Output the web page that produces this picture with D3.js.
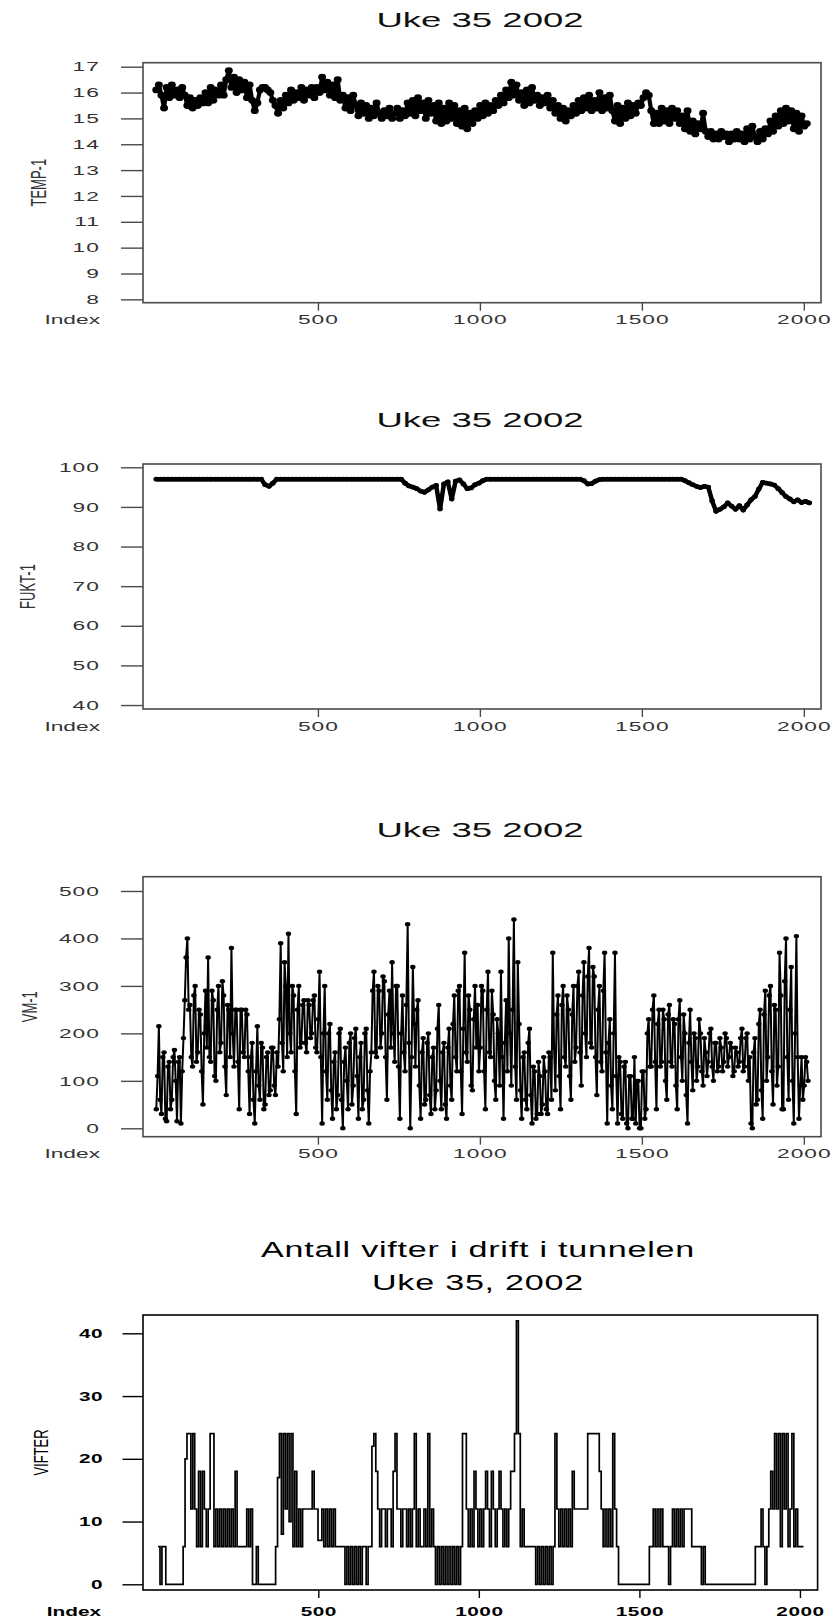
<!DOCTYPE html>
<html>
<head>
<meta charset="utf-8">
<script src="https://cdn.jsdelivr.net/npm/d3@7/dist/d3.min.js"></script>
<style>
  body { margin: 0; background: #fff; }
  svg { display: block; }
</style>
</head>
<body>
<svg id="chart" width="835" height="1620"></svg>
<script>
// ---- tick labels ----
const indexTicks = [500, 1000, 1500, 2000];
const tempTicks = [8, 9, 10, 11, 12, 13, 14, 15, 16, 17];
const fuktTicks = [40, 50, 60, 70, 80, 90, 100];
const vmTicks = [0, 100, 200, 300, 400, 500];
const vifterTicks = [0, 10, 20, 30, 40];

// ---- TEMP-1, one reading every 8th index ----
const tempStep = 8;
const tempValues = [
  16.1,16.3,15.9,15.4,16.2,15.8,16.3,15.9,16.1,15.8,16.2,15.9,15.5,15.8,15.4,15.7,15.5,15.8,15.6,16.0,15.6,16.2,15.7,16.1,15.9,
  16.3,15.9,16.5,16.85,16.2,16.6,16.0,16.5,16.1,16.4,15.8,16.3,15.7,15.3,15.6,16.1,16.2,16.2,16.1,16.0,15.7,15.5,15.2,15.7,15.4,
  15.9,15.6,16.1,15.7,16.0,15.8,16.2,15.7,16.1,15.9,16.2,15.8,16.2,16.0,16.6,16.1,16.4,15.9,16.3,15.8,16.5,15.7,15.9,15.4,15.8,
  15.3,15.9,15.5,15.1,15.6,15.2,15.5,15.0,15.4,15.1,15.6,15.2,15.0,15.3,15.1,15.4,15.0,15.2,15.4,15.0,15.3,15.1,15.6,15.2,15.7,
  15.1,15.8,15.3,15.6,15.0,15.7,15.2,15.5,14.9,15.6,14.8,15.4,14.9,15.6,15.0,15.5,14.8,15.3,14.7,15.4,14.6,15.2,14.8,15.3,15.0,
  15.5,15.1,15.6,15.2,15.5,15.3,15.7,15.5,15.9,15.6,16.1,15.8,16.4,15.9,16.3,15.7,16.0,15.5,16.1,15.6,16.2,15.7,15.9,15.5,15.8,
  15.6,15.9,15.4,15.7,15.2,15.5,15.0,15.4,14.9,15.3,15.1,15.5,15.2,15.7,15.3,15.8,15.4,15.9,15.3,15.7,15.4,16.0,15.3,15.8,15.4,
  15.9,15.3,14.9,15.5,14.8,15.4,15.0,15.6,15.1,15.5,15.2,15.6,15.5,15.8,16.0,15.9,15.3,14.8,15.2,14.8,15.4,14.9,15.3,14.8,15.4,
  15.0,15.3,14.8,15.1,14.6,15.3,14.5,14.9,14.4,14.8,14.6,15.2,14.5,14.3,14.5,14.2,14.4,14.2,14.5,14.3,14.4,14.1,14.4,14.2,14.5,
  14.2,14.4,14.1,14.6,14.2,14.7,14.3,14.1,14.5,14.2,14.6,14.4,14.9,14.5,15.1,14.7,15.3,14.8,15.4,14.9,15.3,14.6,15.2,14.5,15.1,
  14.7,14.8
];

// ---- FUKT-1, one reading every 12th index ----
const fuktStep = 12;
const fuktValues = [
  97,97,97,97,97,97,97,97,97,97,97,97,97,97,97,97,97,97,97,97,97,97,97,97,97,97,97,97,
  95.6,95.2,96.0,
  97,97,97,97,97,97,97,97,97,97,97,97,97,97,97,97,97,97,97,97,97,97,97,97,97,97,97,97,97,97,97,97,97,
  96.0,95.3,95.0,94.6,94.0,93.7,94.3,95.0,95.4,89.5,95.8,96.3,92.0,96.5,96.8,95.8,94.6,94.8,95.6,96.0,96.6,
  97,97,97,97,97,97,97,97,97,97,97,97,97,97,97,97,97,97,97,97,97,97,97,97,97,
  96.6,95.8,95.9,96.5,96.9,
  97,97,97,97,97,97,97,97,97,97,97,97,97,97,97,97,97,97,97,97,97,
  96.6,96.1,95.6,95.2,94.9,95.2,95.0,91.5,88.9,89.4,90.0,91.0,90.2,89.4,90.3,89.2,90.5,91.8,92.6,94.5,
  96.2,96.0,95.8,95.5,94.6,93.6,92.6,92.0,91.3,91.8,91.1,91.4,91.0
];

// ---- VM-1, one reading every 4th index ----
const vmStep = 4;
const vmValues = [
  40,110,215,60,30,150,160,20,15,130, 140,40,60,150,165,100,15,140,150,10,
  120,190,270,360,400,250,260,150,130,280, 300,140,160,250,240,120,50,200,290,170,
  360,150,140,290,270,110,100,250,300,160,
  180,310,280,130,70,260,250,150,380,200, 130,250,250,140,40,250,250,160,150,250,
  240,120,30,150,180,60,10,120,215,90, 60,180,170,40,50,150,160,70,80,170,
  170,90,70,160,130,230,390,180,120,350,
  300,150,410,200,160,300,280,120,30,250, 300,170,180,260,270,180,160,270,260,190,
  200,270,280,170,160,230,330,150,10,200, 300,120,60,200,220,80,20,140,160,40,
  70,200,210,60,0,140,170,100,40,180,
  200,50,90,190,210,110,20,150,180,40, 60,200,210,80,10,120,160,290,330,160,
  150,300,290,170,200,320,310,150,60,240, 290,170,350,200,140,300,300,130,20,200,
  280,160,120,260,430,180,0,150,340,220,
  130,250,270,90,20,160,190,50,60,180, 200,70,30,150,170,40,80,210,260,100,
  40,160,180,50,20,170,210,90,60,220, 280,150,120,290,300,120,30,210,370,160,
  140,280,250,90,80,230,300,170,260,120,
  170,300,290,120,40,250,330,160,150,290, 240,100,60,230,200,90,330,150,20,180,
  270,120,400,200,90,250,440,130,60,350, 220,80,20,150,160,60,40,180,210,70,
  10,130,120,20,30,140,110,30,50,150,
  120,40,30,160,150,60,370,170,80,240, 280,110,40,260,300,150,130,280,250,110,
  60,240,300,140,170,300,330,160,90,280, 350,200,150,320,380,180,170,340,320,150,
  70,250,300,140,120,290,370,160,10,180,
  230,90,40,200,370,110,10,150,140,30, 20,130,140,10,0,110,110,20,20,150,
  10,100,100,0,0,120,120,20,40,200, 230,130,130,250,280,140,40,220,250,130,
  140,250,230,100,60,240,260,140,130,230,
  220,90,40,230,270,150,100,240,200,70, 10,180,250,140,80,200,190,100,130,230,
  200,120,90,190,160,110,140,200,210,130, 100,180,180,120,130,190,170,120,140,200,
  190,130,150,180,170,110,120,170,160,130,
  140,190,210,120,130,190,200,100,150,10, 0,160,190,50,60,220,250,80,20,240,
  290,100,150,280,300,120,50,260,250,90, 130,370,280,40,40,310,400,150,60,250,
  340,100,10,200,405,150,20,90,150,60,
  90,150,140,100
];

// ---- VIFTER (fans running), one reading every 6th index ----
const vifterStep = 6;
const vifterValues = [
  6,0,6,6,0,0,0,0,0,0,0,0,0,6,20,24,24,12,24,12,6,18,6,18,12,
  6,12,24,24,6,12,6,12,6,12,6,12,6,12,6,18,6,6,6,6,6,12,6,12,0,
  0,6,0,0,0,0,0,0,0,0,0,6,17,24,8,24,12,24,10,24,6,18,6,12,6,
  12,12,12,12,12,18,12,12,7,7,12,6,12,6,12,6,12,6,6,6,6,6,0,6,0,
  6,0,6,0,6,0,6,6,0,6,6,22,24,18,12,6,12,12,6,12,12,6,18,24,12,
  12,6,12,12,6,12,6,12,24,6,12,6,6,12,6,24,6,12,6,0,6,0,6,0,6,
  0,6,0,6,0,6,0,6,24,24,12,6,12,6,18,12,6,12,6,12,18,12,6,18,12,
  6,12,18,12,6,12,6,12,18,18,24,42,24,6,12,6,6,6,6,6,6,0,6,0,6,
  0,6,0,6,0,6,24,12,6,12,6,12,6,12,6,18,12,12,12,12,12,12,12,24,24,
  24,24,24,24,18,12,6,12,6,12,6,24,12,6,0,0,0,0,0,0,0,0,0,0,0,
  0,0,0,0,0,6,6,12,6,12,6,12,6,6,6,0,6,12,6,12,6,12,6,12,12,
  12,12,6,6,6,6,6,0,6,0,0,0,0,0,0,0,0,0,0,0,0,0,0,0,0,
  0,0,0,0,0,0,0,0,0,0,6,6,6,12,6,0,6,12,18,12,24,12,24,6,24,
  12,24,6,12,24,6,12,6,6,6,6
];

const svg = d3.select("#chart");
const FONT = "'Liberation Sans', Arial, sans-serif";

// Wide lettering: every text is widened horizontally about its anchor.
function widen(sel, sx) {
  sel.each(function () {
    const t = d3.select(this);
    const x = +t.attr("x") || 0, y = +t.attr("y") || 0;
    t.attr("x", 0).attr("y", 0)
     .attr("transform", `translate(${x},${y}) scale(${sx},1)`);
  });
}

function drawPanel(o) {
  const x = d3.scaleLinear().domain(o.xDomain).range([o.left, o.right]);
  const y = d3.scaleLinear().domain(o.yDomain).range([o.bottom, o.top]);
  const g = svg.append("g");
  const pts = o.values.map((v, i) => ({ idx: 1 + i * o.step, v }));

  // titles
  o.titles.forEach((t, i) => {
    g.append("text")
      .attr("x", o.titleX).attr("y", o.titleY[i])
      .attr("text-anchor", "middle")
      .attr("font-family", FONT).attr("font-size", o.titleSize)
      .attr("letter-spacing", o.titleSpacing || 0)
      .attr("fill", o.titleColor)
      .text(t)
      .call(widen, o.titleStretch);
  });

  // series
  const line = d3.line().x(d => x(d.idx)).y(d => y(d.v));
  if (o.kind === "step") line.curve(d3.curveStepAfter);
  g.append("path")
    .datum(pts)
    .attr("d", line)
    .attr("fill", "none")
    .attr("stroke", "#000")
    .attr("stroke-width", o.lineWidth)
    .attr("stroke-linejoin", o.kind === "step" ? "miter" : "round");
  if (o.marker) {
    g.append("g").selectAll("ellipse").data(pts).join("ellipse")
      .attr("cx", d => x(d.idx)).attr("cy", d => y(d.v))
      .attr("rx", o.marker[0]).attr("ry", o.marker[1])
      .attr("fill", "#000");
  }

  // frame
  g.append("rect")
    .attr("x", o.left).attr("y", o.top)
    .attr("width", o.right - o.left).attr("height", o.bottom - o.top)
    .attr("fill", "none").attr("stroke", o.frameColor).attr("stroke-width", 1.6);

  // y axis
  const gy = g.append("g").attr("transform", `translate(${o.left},0)`)
    .call(d3.axisLeft(y).tickValues(o.yTicks).tickSize(o.yTickLen)
      .tickPadding(o.yTickPad).tickSizeOuter(0).tickFormat(d3.format("d")));
  gy.select(".domain").remove();
  gy.attr("font-family", FONT).attr("font-size", o.tickSize)
    .attr("font-weight", o.tickWeight || "normal");
  gy.selectAll("line").attr("stroke", o.frameColor).attr("stroke-width", 1.4);
  gy.selectAll("text").attr("fill", o.textColor)
    .attr("letter-spacing", o.tickSpacing || 0).call(widen, o.stretch);

  // x axis
  const gx = g.append("g").attr("transform", `translate(0,${o.bottom})`)
    .call(d3.axisBottom(x).tickValues(indexTicks).tickSize(8)
      .tickPadding(o.xTickPad).tickSizeOuter(0).tickFormat(d3.format("d")));
  gx.select(".domain").remove();
  gx.attr("font-family", FONT).attr("font-size", o.tickSize)
    .attr("font-weight", o.tickWeight || "normal");
  gx.selectAll("line").attr("stroke", o.frameColor).attr("stroke-width", 1.4);
  gx.selectAll("text").attr("fill", o.textColor)
    .attr("letter-spacing", o.tickSpacing || 0).call(widen, o.stretch);

  // "Index" caption at the left end of the x axis
  g.append("text")
    .attr("x", o.indexX).attr("y", o.bottom + 8 + o.xTickPad)
    .attr("dy", "0.71em")
    .attr("text-anchor", "end")
    .attr("font-family", FONT).attr("font-size", o.tickSize)
    .attr("font-weight", o.tickWeight || "normal")
    .attr("fill", o.textColor)
    .text("Index")
    .call(widen, o.stretch);

  // y caption, rotated
  g.append("text")
    .attr("transform", `translate(${o.ylabelX},${(o.top + o.bottom) / 2}) scale(${o.stretch},1) rotate(-90)`)
    .attr("text-anchor", "middle")
    .attr("dy", "0.36em")
    .attr("font-family", FONT).attr("font-size", o.ylabelSize)
    .attr("fill", o.textColor)
    .text(o.ylabel);
}

const common = {
  left: 143, right: 821, xDomain: [-40, 2053],
  titleX: 480, titleSize: 21, titleStretch: 1.74, titleColor: "#111",
  tickSize: 13, stretch: 1.75, tickSpacing: 0.6,
  yTickLen: 22, yTickPad: 21, xTickPad: 4.5, indexX: 100,
  frameColor: "#4a4a4a", textColor: "#333", ylabelSize: 13
};

drawPanel(Object.assign({}, common, {
  titles: ["Uke 35 2002"], titleY: [27],
  top: 62.7, bottom: 302.7, yDomain: [7.87, 17.155], yTicks: tempTicks,
  values: tempValues, step: tempStep, lineWidth: 4.2, marker: [4.0, 3.4],
  ylabel: "TEMP-1", ylabelX: 38
}));

drawPanel(Object.assign({}, common, {
  titles: ["Uke 35 2002"], titleY: [427],
  top: 464, bottom: 709, yDomain: [39, 100.83], yTicks: fuktTicks,
  values: fuktValues, step: fuktStep, lineWidth: 4.5, marker: [2.8, 2.4],
  ylabel: "FUKT-1", ylabelX: 27
}));

drawPanel(Object.assign({}, common, {
  titles: ["Uke 35 2002"], titleY: [837],
  top: 876.7, bottom: 1136.7, yDomain: [-17.7, 530.1], yTicks: vmTicks,
  values: vmValues, step: vmStep, lineWidth: 2.0, marker: [2.7, 2.2],
  ylabel: "VM-1", ylabelX: 29
}));

drawPanel(Object.assign({}, common, {
  titles: ["Antall vifter i drift i tunnelen", "Uke 35, 2002"], titleY: [1257, 1290],
  titleX: 478, titleSize: 22, titleStretch: 1.55, titleSpacing: 0.5, titleColor: "#000",
  right: 817.6, xDomain: [-46, 2055],
  top: 1315, bottom: 1590, yDomain: [-0.91, 42.92], yTicks: vifterTicks,
  values: vifterValues, step: vifterStep, kind: "step", lineWidth: 1.7, marker: null,
  yTickLen: 20.5, yTickPad: 19.5, xTickPad: 9, indexX: 101,
  tickSize: 13, tickWeight: "bold", stretch: 1.6, tickSpacing: 0.3,
  frameColor: "#000", textColor: "#000",
  ylabel: "VIFTER", ylabelX: 41
}));
</script>
</body>
</html>
